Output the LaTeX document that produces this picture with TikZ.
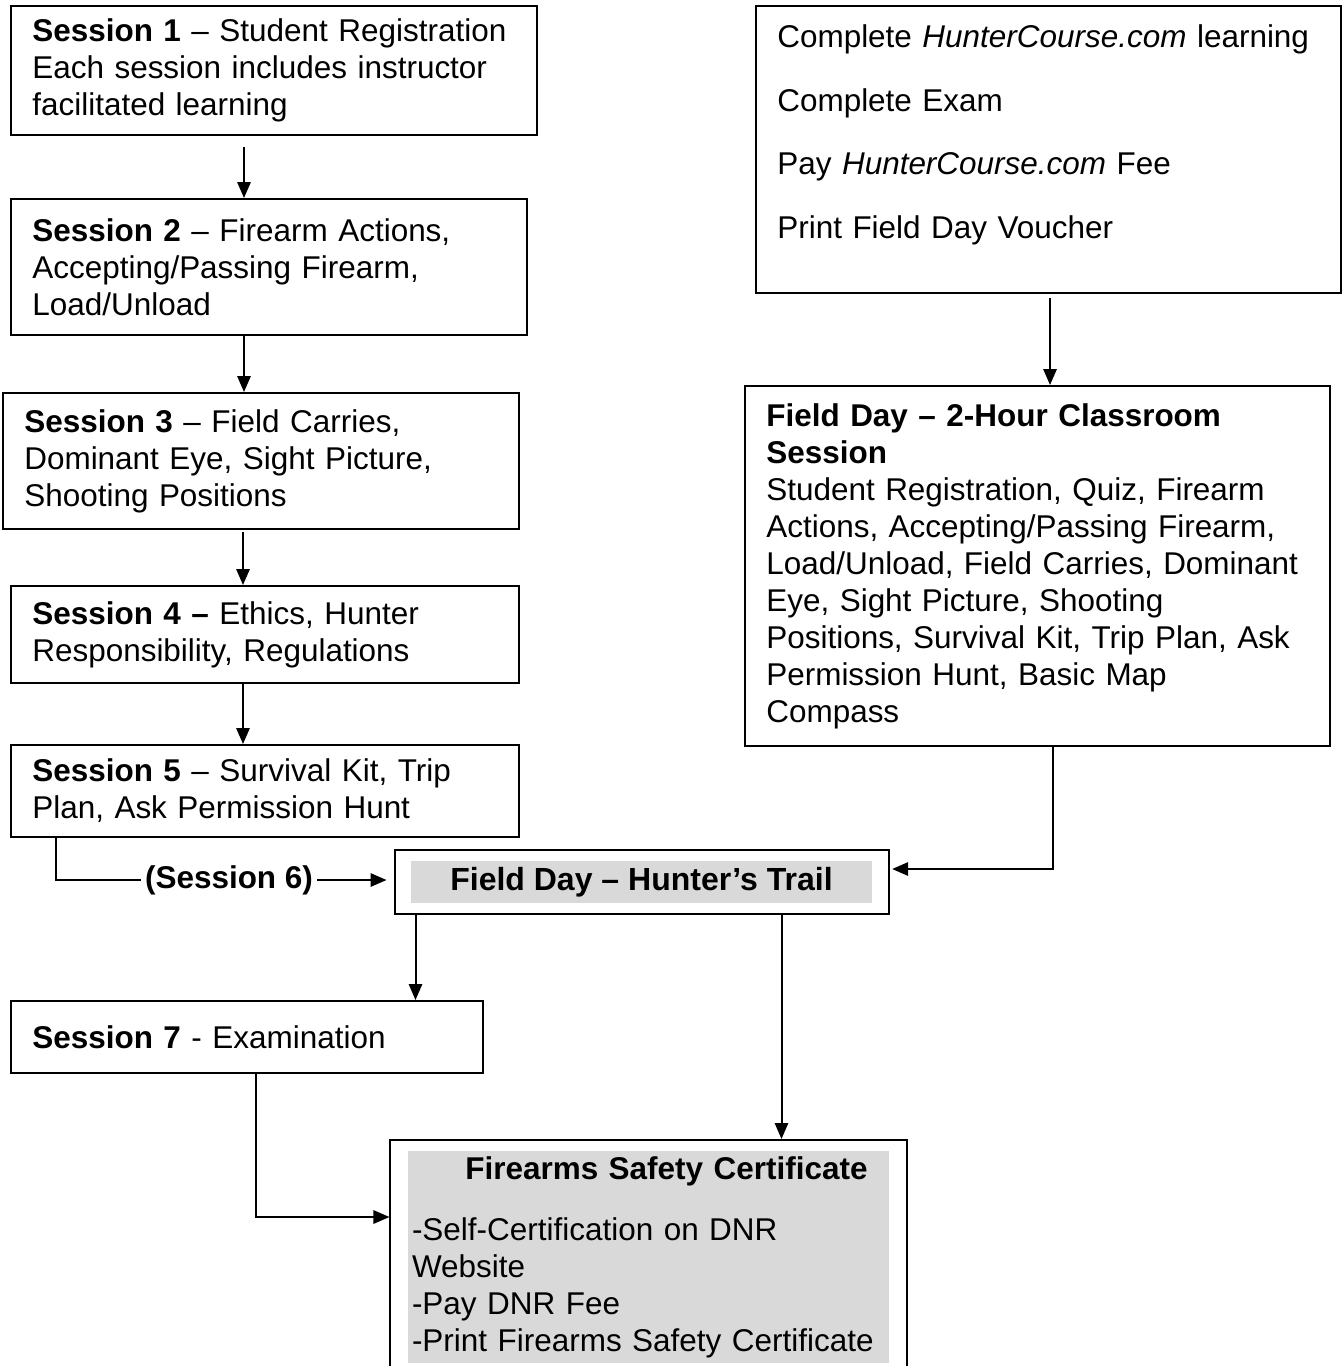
\documentclass[tikz,border=0pt]{standalone}
\usepackage{fontspec}
\setmainfont{Liberation Sans}
\usetikzlibrary{arrows.meta,fit}

\tikzset{
  stage/.style={draw, anchor=north west, align=left, inner xsep=8pt, inner ysep=2pt,
                font=\fontsize{11.8}{13.875}\selectfont},
  shaded/.style={fill=gray!30, align=left, inner sep=1.5pt,
                 font=\fontsize{11.8}{13.875}\selectfont},
  frame/.style={draw, inner sep=0pt},
  tag/.style={inner xsep=1.2pt, inner ysep=1pt, font=\fontsize{11.8}{13.875}\selectfont\bfseries}
}

\begin{document}
\begin{tikzpicture}[->,>={Triangle[length=6pt,width=5pt]},line width=.75pt,
                    x=0.375pt,y=-0.375pt]
\useasboundingbox (0,0) rectangle (1343,1366);
% classroom sessions
\node[stage, text width=181.25pt, minimum height=48.4pt] (s1) at (10,5)
  {\textbf{Session 1} – Student Registration\\Each session includes instructor\\facilitated learning};
\node[stage, text width=177.5pt, minimum height=51pt] (s2) at (10,198)
  {\textbf{Session 2} – Firearm Actions,\\Accepting/Passing Firearm,\\Load/Unload};
\node[stage, text width=177.5pt, minimum height=51pt] (s3) at (2,392)
  {\textbf{Session 3} – Field Carries,\\Dominant Eye, Sight Picture,\\Shooting Positions};
\node[stage, text width=174.5pt, minimum height=36.4pt] (s4) at (10,585)
  {\textbf{Session 4 –} Ethics, Hunter\\Responsibility, Regulations};
\node[stage, text width=174.5pt, minimum height=34.5pt] (s5) at (10,744)
  {\textbf{Session 5} – Survival Kit, Trip\\Plan, Ask Permission Hunt};
\node[stage, text width=161pt, minimum height=27pt] (s7) at (10,1000)
  {\textbf{Session 7} - Examination};
% online course
\node[stage, text width=203.4pt, inner ysep=6.85pt] (online) at (755,5)
  {Complete \textit{HunterCourse.com} learning\\[10.1pt]Complete Exam\\[10.1pt]
   Pay \textit{HunterCourse.com} Fee\\[10.1pt]Print Field Day Voucher\\[-0.6pt]\mbox{}};
\node[stage, text width=203.4pt, minimum height=135pt] (fd) at (744,385)
  {\textbf{Field Day – 2-Hour Classroom}\\\textbf{Session}\\Student Registration, Quiz, Firearm\\
   Actions, Accepting/Passing Firearm,\\Load/Unload, Field Carries, Dominant\\
   Eye, Sight Picture, Shooting\\Positions, Survival Kit, Trip Plan, Ask\\
   Permission Hunt, Basic Map\\Compass};
% trail and certificate
\node[shaded, minimum width=172.9pt, minimum height=15.75pt, font=\fontsize{12}{13.875}\selectfont\bfseries]
  (trailin) at (641.5,882) {Field Day – Hunter’s Trail};
\node[frame, fit=(trailin), inner xsep=5.8pt, inner ysep=3.9pt] (trail) {};
\node[shaded, anchor=north west, text width=177.4pt, minimum height=79.5pt] (certin) at (407,1150)
  {\hspace*{20pt}\textbf{Firearms Safety Certificate}\\[9pt]-Self-Certification on DNR\\Website\\
   -Pay DNR Fee\\-Print Firearms Safety Certificate};
\node[frame, fit=(certin), inner xsep=6.2pt, inner ysep=3.75pt] (cert) {};
\node[tag] (s6) at (229,880) {(Session 6)};

\draw ([shift={(-30,11)}]s1.south) coordinate (a1) -- (a1 |- s2.north);
\draw ([shift={(-25,0)}]s2.south) coordinate (a2) -- (a2 |- s3.north);
\draw ([shift={(-18,2)}]s3.south) coordinate (a3) -- (a3 |- s4.north);
\draw ([shift={(-22,0)}]s4.south) coordinate (a4) -- (a4 |- s5.north);
\draw[-] ([shift={(-209,0)}]s5.south) |- (s6.west);
\draw[shorten >=2.6pt] (s6.east) -- (s6.east -| trail.west);
\draw ([shift={(1.5,4)}]online.south) coordinate (a5) -- (a5 |- fd.north);
\draw[shorten >=1pt] ([shift={(15.5,0)}]fd.south) |- ([shift={(0,-13)}]trail.east);
\draw ([shift={(-226,0)}]trail.south) coordinate (a6) -- (a6 |- s7.north);
\draw ([shift={(140,0)}]trail.south) coordinate (a7) -- (a7 |- cert.north);
\draw ([shift={(9,0)}]s7.south) |- ([shift={(0,-40)}]cert.west);
\end{tikzpicture}
\end{document}
